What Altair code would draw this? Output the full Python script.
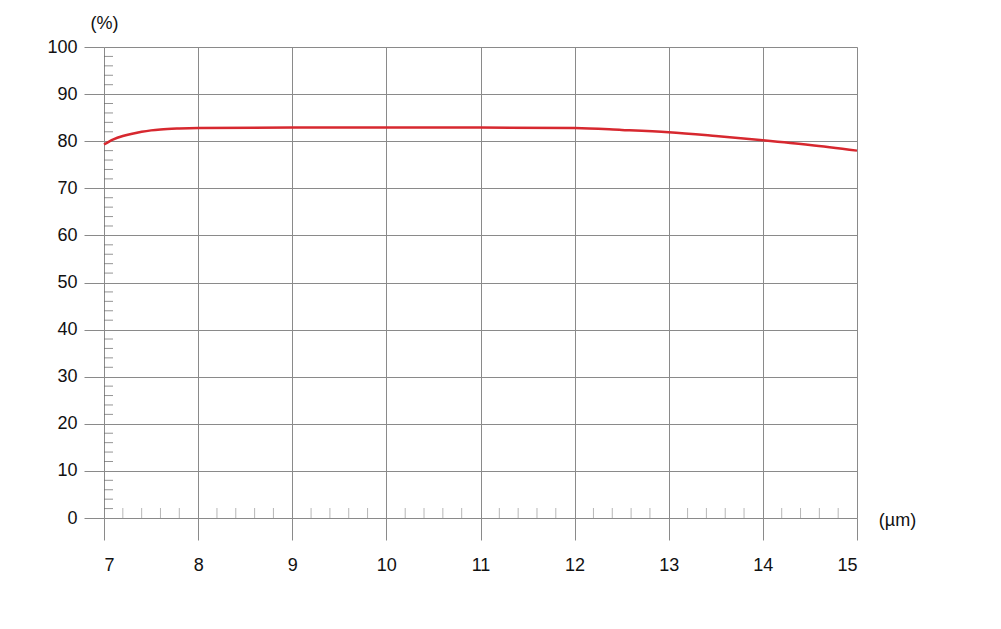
import altair as alt
import pandas as pd

wl = [7.0, 7.1, 7.2, 7.3, 7.4, 7.5, 7.6, 7.8, 8.0, 9.0, 10.0, 11.0, 12.0, 12.5, 13.0, 13.5, 14.0, 14.5, 15.0]
trans = [79.3, 80.4, 81.1, 81.6, 82.0, 82.3, 82.5, 82.7, 82.8, 82.9, 82.9, 82.9, 82.8, 82.4, 81.9, 81.1, 80.2, 79.2, 78.0]

x_ticks = [7, 8, 9, 10, 11, 12, 13, 14, 15]
y_ticks = [0, 10, 20, 30, 40, 50, 60, 70, 80, 90, 100]
x_minor = [round(7 + 0.2 * i, 1) for i in range(41) if i % 5 != 0]
y_minor = [2 * i for i in range(51) if i % 5 != 0]

FONT = "Liberation Sans"
GRID = "#8a8a8a"
FS = 18

df = pd.DataFrame({"wl": wl, "t": trans})
xs = alt.Scale(domain=[7, 15], nice=False)
ys = alt.Scale(domain=[0, 100], nice=False)

base_x = alt.X("wl:Q", scale=xs, axis=alt.Axis(
    values=x_ticks, format="d", grid=True, gridColor=GRID, gridWidth=1, domain=False,
    tickColor=GRID, tickSize=22, labelFontSize=FS, labelFont=FONT, labelColor="#111",
    labelPadding=16, title="(µm)", titleFont=FONT, titleFontSize=FS, titleFontWeight="normal",
    titleColor="#111", titleX=793, titleY=2, titleAlign="center", titleBaseline="middle",
    titleAngle=0))
base_y = alt.Y("t:Q", scale=ys, axis=alt.Axis(
    values=y_ticks, format="d", grid=True, gridColor=GRID, gridWidth=1, domain=False,
    tickColor=GRID, tickSize=20, labelFontSize=FS, labelFont=FONT, labelColor="#111",
    labelPadding=7, title="(%)", titleFont=FONT, titleFontSize=FS, titleFontWeight="normal",
    titleColor="#111", titleAngle=0, titleX=0, titleY=-24, titleAlign="center",
    titleBaseline="middle"))

line = alt.Chart(df).mark_line(color="#d7282f", strokeWidth=2.5, interpolate="monotone").encode(
    x=base_x, y=base_y)

ymin_df = pd.DataFrame({"y": y_minor, "x": [7] * len(y_minor)})
ymin = alt.Chart(ymin_df).mark_tick(orient="horizontal", size=9, thickness=1, color="#666", xOffset=4.5).encode(
    x=alt.X("x:Q", scale=xs), y=alt.Y("y:Q", scale=ys))

xmin_df = pd.DataFrame({"x": x_minor, "y": [0] * len(x_minor)})
xmin = alt.Chart(xmin_df).mark_tick(orient="vertical", size=10, thickness=1, color="#999", yOffset=-5).encode(
    x=alt.X("x:Q", scale=xs), y=alt.Y("y:Q", scale=ys))

chart = alt.layer(ymin, xmin, line).properties(
    width=753, height=471,
    autosize=alt.AutoSizeParams(type="none"),
    padding={"left": 96, "top": 39, "right": 120, "bottom": 80},
).configure_view(stroke=None).configure(background="white")

chart.save("out.html", embed_options={"renderer": "svg", "actions": False})
